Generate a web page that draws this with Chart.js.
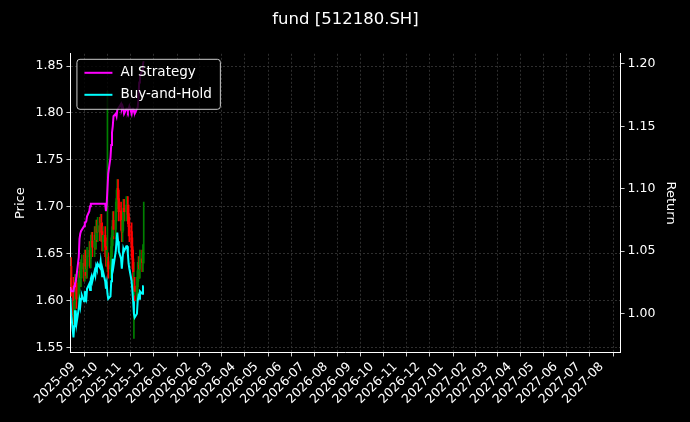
<!DOCTYPE html>
<html>
<head>
<meta charset="utf-8">
<script src="https://cdn.jsdelivr.net/npm/chart.js@4.4.1/dist/chart.umd.min.js"></script>
<style>
  html, body { margin: 0; padding: 0; background: #000; }
  #wrap { width: 690px; height: 422px; }
</style>
</head>
<body>
<div id="wrap"><canvas id="fundChart"></canvas></div>
<script>
// dados (dias úteis a partir de 2025-08-28)
const startDate = '2025-08-28';
const openP  = [1.625,1.636,1.615,1.585,1.599,1.618,1.618,1.602,1.621,1.631,1.625,1.634,1.639,1.631,1.644,1.637,1.634,1.647,1.653,1.645,1.660,1.663,1.657,1.669,1.665,1.676,1.673,1.679,1.674,1.682,1.673,1.663,1.669,1.657,1.647,1.636,1.641,1.634,1.637,1.657,1.669,1.685,1.676,1.695,1.708,1.719,1.708,1.695,1.685,1.673,1.685,1.698,1.695,1.701,1.701,1.692,1.679,1.673,1.657,1.644,1.606,1.615,1.610,1.615,1.631,1.637,1.634,1.644,1.641,1.650];
const highP  = [1.646,1.646,1.625,1.609,1.628,1.628,1.628,1.631,1.641,1.641,1.644,1.649,1.649,1.654,1.654,1.647,1.657,1.663,1.663,1.670,1.673,1.673,1.679,1.679,1.686,1.686,1.689,1.689,1.692,1.692,1.683,1.679,1.679,1.667,1.663,1.823,1.651,1.647,1.667,1.679,1.695,1.695,1.705,1.718,1.729,1.729,1.718,1.705,1.695,1.695,1.708,1.708,1.711,1.711,1.711,1.702,1.689,1.683,1.667,1.654,1.641,1.625,1.625,1.641,1.647,1.647,1.654,1.654,1.660,1.705];
const lowP   = [1.615,1.605,1.575,1.575,1.589,1.608,1.592,1.592,1.611,1.615,1.615,1.624,1.621,1.621,1.627,1.624,1.624,1.637,1.635,1.635,1.650,1.647,1.647,1.655,1.655,1.663,1.663,1.664,1.664,1.663,1.653,1.653,1.647,1.637,1.637,1.631,1.624,1.624,1.627,1.647,1.659,1.666,1.666,1.685,1.698,1.698,1.685,1.675,1.663,1.663,1.675,1.685,1.685,1.691,1.682,1.669,1.663,1.647,1.634,1.621,1.560,1.600,1.600,1.605,1.621,1.624,1.624,1.631,1.631,1.640];
const closeP = [1.636,1.615,1.585,1.599,1.618,1.618,1.602,1.621,1.631,1.625,1.634,1.639,1.631,1.644,1.637,1.634,1.647,1.653,1.645,1.660,1.663,1.657,1.669,1.665,1.676,1.673,1.679,1.674,1.682,1.673,1.663,1.669,1.657,1.647,1.653,1.641,1.634,1.637,1.657,1.669,1.685,1.676,1.695,1.708,1.719,1.708,1.695,1.685,1.673,1.685,1.698,1.695,1.701,1.701,1.692,1.679,1.673,1.657,1.644,1.631,1.615,1.610,1.615,1.631,1.637,1.634,1.644,1.641,1.650,1.650];
const aiStrategy = [1.021,1.018,1.018,1.022,1.024,1.026,1.030,1.045,1.060,1.064,1.066,1.066,1.070,1.073,1.073,1.074,1.078,1.082,1.086,1.088,1.088,1.088,1.088,1.088,1.088,1.088,1.088,1.088,1.088,1.088,1.088,1.088,1.088,1.082,1.088,1.100,1.112,1.125,1.135,1.145,1.150,1.158,1.160,1.158,1.163,1.164,1.164,1.168,1.164,1.166,1.164,1.160,1.164,1.164,1.162,1.164,1.166,1.160,1.164,1.164,1.162,1.160,1.164,1.165,1.172,1.185,1.190,1.195,1.200,1.202];
const buyHold = [1.013,1.000,0.981,0.990,1.002,1.002,0.992,1.004,1.010,1.006,1.012,1.015,1.010,1.018,1.014,1.012,1.020,1.024,1.019,1.028,1.030,1.026,1.034,1.031,1.038,1.036,1.040,1.037,1.042,1.036,1.030,1.034,1.026,1.020,1.024,1.016,1.012,1.014,1.026,1.034,1.044,1.038,1.050,1.058,1.065,1.058,1.050,1.044,1.036,1.044,1.052,1.050,1.054,1.054,1.048,1.040,1.036,1.026,1.018,1.010,1.000,0.997,1.000,1.010,1.014,1.012,1.018,1.016,1.022,1.022];
const monthLabels = ['2025-09','2025-10','2025-11','2025-12','2026-01','2026-02','2026-03','2026-04','2026-05','2026-06','2026-07','2026-08','2026-09','2026-10','2026-11','2026-12','2027-01','2027-02','2027-03','2027-04','2027-05','2027-06','2027-07','2027-08'];

// dias contados a partir de 2025-09-01
const DAY = 86400000;
const base = Date.UTC(2025, 8, 1);
const toDay = (s) => { const p = s.split('-').map(Number); return (Date.UTC(p[0], p[1] - 1, p[2] || 1) - base) / DAY; };

const xs = [];
let d = new Date(startDate + 'T00:00:00Z');
while (xs.length < closeP.length) {
    const wd = d.getUTCDay();
    if (wd !== 0 && wd !== 6) xs.push((d.getTime() - base) / DAY);
    d = new Date(d.getTime() + DAY);
}
const monthTicks = monthLabels.map(toDay);

const up = closeP.map((c, i) => c >= openP[i]);
const candleColor = up.map(u => u ? '#008000' : '#ff0000');

const wickData = xs.map((x, i) => ({ x: x, y: [lowP[i], highP[i]] }));
const bodyData = xs.map((x, i) => ({ x: x, y: [Math.min(openP[i], closeP[i]), Math.max(openP[i], closeP[i]) + 0.0008] }));

const gridCfg = { color: '#3a3a3a', lineWidth: 0.8, tickColor: '#ffffff', tickLength: 4, drawOnChartArea: true };
const tickFont = { family: 'DejaVu Sans', size: 12.5 };

// legenda desenhada dentro da área do gráfico (estilo matplotlib)
const legendItems = [
    { text: 'AI Strategy', color: '#ff00ff' },
    { text: 'Buy-and-Hold', color: '#00ffff' }
];
const legendBox = {
    id: 'legendBox',
    beforeDraw(chart) {
        const ctx = chart.ctx;
        ctx.save();
        ctx.fillStyle = '#000';
        ctx.fillRect(0, 0, chart.width, chart.height);
        ctx.restore();
    },
    afterDraw(chart) {
        const ctx = chart.ctx;
        const a = chart.chartArea;
        ctx.save();
        ctx.font = '13.5px "DejaVu Sans"';
        const w = Math.max(...legendItems.map(it => ctx.measureText(it.text).width)) + 52;
        const x0 = a.left + 6, y0 = a.top + 5, h = 50;
        ctx.fillStyle = 'rgba(0,0,0,0.8)';
        ctx.strokeStyle = '#cccccc';
        ctx.lineWidth = 1;
        ctx.beginPath();
        ctx.roundRect(x0 + 0.5, y0 + 0.5, w, h, 3);
        ctx.fill();
        ctx.stroke();
        legendItems.forEach((it, i) => {
            const cy = y0 + 14 + i * 22;
            ctx.strokeStyle = it.color;
            ctx.lineWidth = 2;
            ctx.beginPath();
            ctx.moveTo(x0 + 8, cy);
            ctx.lineTo(x0 + 36, cy);
            ctx.stroke();
            ctx.fillStyle = '#ffffff';
            ctx.textBaseline = 'middle';
            ctx.fillText(it.text, x0 + 44, cy);
        });
        ctx.restore();
    }
};

new Chart(document.getElementById('fundChart'), {
    data: {
        datasets: [
            { type: 'line', label: 'AI Strategy', data: xs.map((x, i) => ({ x: x, y: aiStrategy[i] })), yAxisID: 'yR', borderColor: '#ff00ff', backgroundColor: '#ff00ff', borderWidth: 2, pointRadius: 0, tension: 0, order: 0 },
            { type: 'line', label: 'Buy-and-Hold', data: xs.map((x, i) => ({ x: x, y: buyHold[i] })), yAxisID: 'yR', borderColor: '#00ffff', backgroundColor: '#00ffff', borderWidth: 2, pointRadius: 0, tension: 0, order: 0 },
            { type: 'bar', label: 'wick', data: wickData, yAxisID: 'y', backgroundColor: candleColor, barThickness: 1, grouped: false, order: 2 },
            { type: 'bar', label: 'body', data: bodyData, yAxisID: 'y', backgroundColor: candleColor, barThickness: 1.6, grouped: false, order: 1 }
        ]
    },
    options: {
        responsive: true,
        maintainAspectRatio: false,
        animation: false,
        layout: { padding: { left: 9, right: 8, top: 4, bottom: 12 } },
        plugins: {
            title: { display: true, text: 'fund [512180.SH]', color: '#ffffff', font: { family: 'DejaVu Sans', size: 16.5, weight: 'normal' }, padding: { top: 6, bottom: 24 } },
            tooltip: { enabled: false },
            legend: { display: false }
        },
        scales: {
            x: {
                type: 'linear',
                min: -4,
                max: toDay('2027-08-26'),
                offset: false,
                afterBuildTicks: (ax) => { ax.ticks = monthTicks.map(v => ({ value: v })); },
                grid: { ...gridCfg, borderDash: [2, 2] },
                border: { color: '#ffffff', dash: [2, 2] },
                ticks: { color: '#ffffff', font: tickFont, maxRotation: 45, minRotation: 45, autoSkip: false,
                         callback: (v) => monthLabels[monthTicks.indexOf(v)] || '' }
            },
            y: {
                position: 'left',
                min: 1.545, max: 1.863,
                afterBuildTicks: (ax) => { ax.ticks = [1.55, 1.60, 1.65, 1.70, 1.75, 1.80, 1.85].map(v => ({ value: v })); },
                grid: gridCfg,
                border: { color: '#ffffff', dash: [2, 2] },
                ticks: { color: '#ffffff', font: tickFont, callback: (v) => v.toFixed(2) },
                title: { display: true, text: 'Price', color: '#ffffff', font: { family: 'DejaVu Sans', size: 13 } }
            },
            yR: {
                position: 'right',
                min: 0.969, max: 1.208,
                afterBuildTicks: (ax) => { ax.ticks = [1.00, 1.05, 1.10, 1.15, 1.20].map(v => ({ value: v })); },
                grid: { ...gridCfg, drawOnChartArea: false },
                border: { color: '#ffffff' },
                ticks: { color: '#ffffff', font: tickFont, callback: (v) => v.toFixed(2) },
                title: { display: true, text: 'Return', color: '#ffffff', font: { family: 'DejaVu Sans', size: 13 } }
            }
        }
    },
    plugins: [legendBox]
});
</script>
</body>
</html>
